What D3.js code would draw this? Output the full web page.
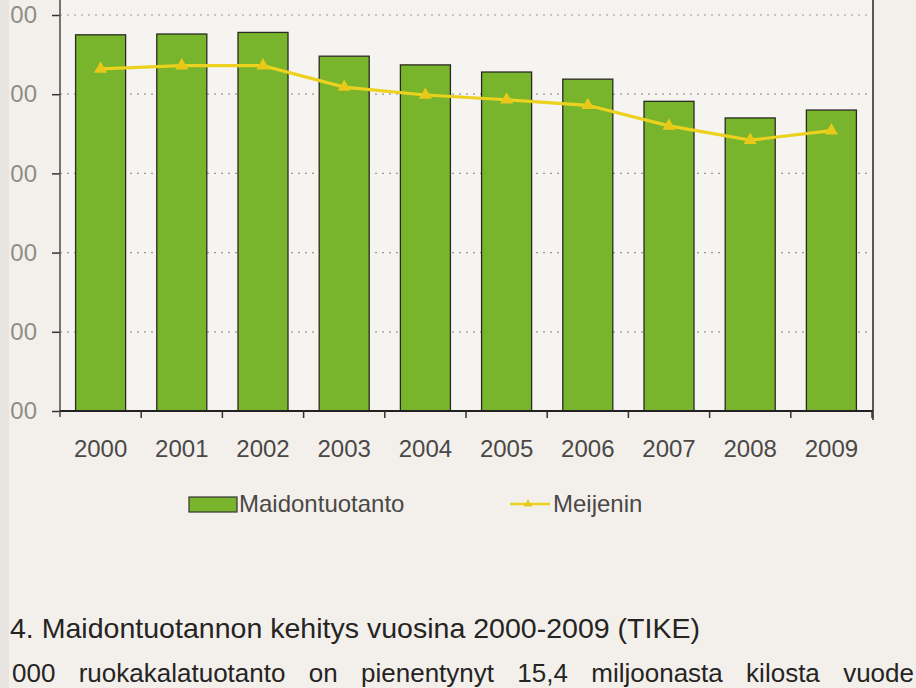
<!DOCTYPE html>
<html><head><meta charset="utf-8">
<script src="https://cdn.jsdelivr.net/npm/d3@7"></script>
<style>body{margin:0;background:#f2efeb;} svg{display:block;}</style>
</head><body>
<svg id="c" width="916" height="688"></svg>
<script>
const years = ["2000","2001","2002","2003","2004","2005","2006","2007","2008","2009"];
const maidontuotanto = [2475,2476,2478,2448,2437,2428,2419,2391,2370,2380];
const meijerin = [2432,2436,2436,2409,2399,2393,2386,2360,2342,2354];
const yTicks = [2000,2100,2200,2300,2400,2500];
// only the last two digits of each y tick label are visible in the scanned reference
const yTickLabels = ["00","00","00","00","00","00"];
const seriesNames = ["Maidontuotanto","Meijenin"];
const captionText = "4. Maidontuotannon kehitys vuosina 2000-2009 (TIKE)";
const bodyText = "000 ruokakalatuotanto on pienentynyt 15,4 miljoonasta kilosta vuode";

const svg = d3.select("#c");
const FONT = "'Liberation Sans', Arial, sans-serif";
const L = 60, R = 872, T = 15, B = 411;
const barColor = "#78b42c", lineColor = "#ecd11e";

svg.append("rect").attr("width",916).attr("height",688).attr("fill","#f3f0ec");
svg.append("rect").attr("x",L).attr("y",0).attr("width",R-L).attr("height",B).attr("fill","#f6f4f1");

const x = d3.scaleBand().domain(years).range([L,R]).paddingInner(0.384).paddingOuter(0.192);
const y = d3.scaleLinear().domain([2000,2500]).range([B,T]);

// gridlines
svg.append("g").selectAll("line").data(yTicks.filter(v=>v>2000)).join("line")
  .attr("x1",L).attr("x2",R).attr("y1",d=>y(d)).attr("y2",d=>y(d))
  .attr("stroke","#9a9894").attr("stroke-width",1.2).attr("stroke-dasharray","2,5");

// bars
svg.append("g").selectAll("rect").data(years).join("rect")
  .attr("x",d=>x(d)).attr("width",x.bandwidth())
  .attr("y",(d,i)=>y(maidontuotanto[i])).attr("height",(d,i)=>B-y(maidontuotanto[i]))
  .attr("fill",barColor).attr("stroke","#2a2a22").attr("stroke-width",1.3);

// line
const cx = d => x(d)+x.bandwidth()/2;
svg.append("path").datum(years)
  .attr("d", d3.line().x(cx).y((d,i)=>y(meijerin[i])))
  .attr("fill","none").attr("stroke",lineColor).attr("stroke-width",3.2);
svg.append("g").selectAll("path").data(years).join("path")
  .attr("transform",(d,i)=>`translate(${cx(d)},${y(meijerin[i])})`)
  .attr("d", d3.symbol(d3.symbolTriangle).size(75))
  .attr("fill","#e8c818");

// y axis
const yAxis = svg.append("g").attr("transform",`translate(${L},0)`)
  .call(d3.axisLeft(y).tickValues(yTicks).tickSize(8).tickPadding(15)
    .tickFormat((d,i)=>yTickLabels[i]));
yAxis.select(".domain").remove();
yAxis.selectAll(".tick line").attr("stroke","#333").attr("stroke-width",1.5);
yAxis.selectAll("text").attr("font-family",FONT).attr("font-size",24).attr("fill","#8f8c89");
svg.append("line").attr("x1",L).attr("x2",L).attr("y1",0).attr("y2",417).attr("stroke","#555").attr("stroke-width",1.6);

// x axis
const xAxis = svg.append("g").attr("transform",`translate(0,${B})`)
  .call(d3.axisBottom(x).tickSize(0).tickPadding(29));
xAxis.select(".domain").remove();
xAxis.selectAll("text").attr("font-family",FONT).attr("font-size",24).attr("fill","#4a4846");
svg.append("line").attr("x1",L).attr("x2",R+1).attr("y1",B).attr("y2",B).attr("stroke","#222").attr("stroke-width",1.8);
const bounds = years.slice(1).map(d=>x(d)-x.step()*x.paddingInner()/2).concat([R]);
svg.append("g").selectAll("line").data(bounds).join("line")
  .attr("x1",d=>d).attr("x2",d=>d).attr("y1",B).attr("y2",B+7)
  .attr("stroke","#333").attr("stroke-width",1.5);
// right frame
svg.append("line").attr("x1",R+1).attr("x2",R+1).attr("y1",0).attr("y2",420).attr("stroke","#333").attr("stroke-width",1.6);

// legend
const lg = svg.append("g");
lg.append("rect").attr("x",189).attr("y",497).attr("width",48).attr("height",15)
  .attr("fill",barColor).attr("stroke","#333").attr("stroke-width",1.2);
lg.append("text").attr("x",239).attr("y",512).text(seriesNames[0])
  .attr("font-family",FONT).attr("font-size",24).attr("fill","#4a4846");
lg.append("line").attr("x1",510).attr("x2",550).attr("y1",504).attr("y2",504)
  .attr("stroke",lineColor).attr("stroke-width",2.5);
lg.append("path").attr("transform","translate(528,504)").attr("d",d3.symbol(d3.symbolTriangle).size(30)).attr("fill","#e8c818");
lg.append("text").attr("x",553).attr("y",512).text(seriesNames[1])
  .attr("font-family",FONT).attr("font-size",24).attr("fill","#4a4846");

// caption and body text
svg.append("text").attr("x",10).attr("y",638).text(captionText)
  .attr("font-family",FONT).attr("font-size",28).attr("fill","#262422")
  .attr("textLength",690).attr("lengthAdjust","spacingAndGlyphs");
const body = svg.append("text").attr("x",12).attr("y",682).text(bodyText)
  .attr("font-family",FONT).attr("font-size",26).attr("fill","#262422");
const natural = body.node().getComputedTextLength();
const spaces = bodyText.split(" ").length - 1;
body.attr("word-spacing", Math.max(0,(902 - natural)/spaces));

// scan edge strip
svg.append("rect").attr("x",0).attr("y",0).attr("width",9).attr("height",688).attr("fill","#e8e5e1");
</script>
</body></html>
